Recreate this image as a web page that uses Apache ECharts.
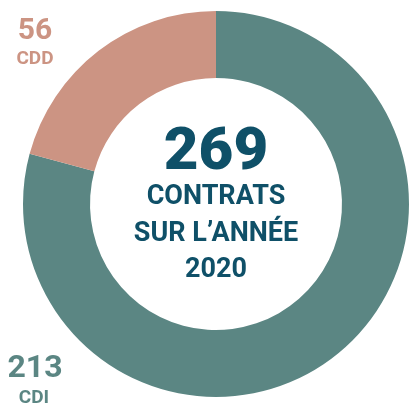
<!DOCTYPE html>
<html>
<head>
<meta charset="utf-8">
<script src="https://cdn.jsdelivr.net/npm/echarts@6/dist/echarts.min.js"></script>
<style>
  html, body { margin: 0; padding: 0; background: #fff; }
  #main { width: 409px; height: 409px; }
</style>
</head>
<body>
<div id="main"></div>
<script>
// données
var categories = ['CDI', 'CDD'];
var values = [213, 56];
var colors = ['#5b8683', '#cc9483'];
var total = 269;
var centerLines = ['CONTRATS', 'SUR L\u2019ANNÉE', '2020'];

var myChart = echarts.init(document.getElementById('main'));

var dark = '#0f5068';
var font = 'Roboto';
var cx = 216;

var graphics = [
  {type: 'text', x: cx, y: 124, style: {text: String(total), font: '900 60px ' + font, fill: dark, align: 'center'}},
  {type: 'text', x: cx, y: 184, style: {text: centerLines[0], font: 'bold 27px ' + font, fill: dark, align: 'center'}},
  {type: 'text', x: cx, y: 221, style: {text: centerLines[1], font: 'bold 27px ' + font, fill: dark, align: 'center'}},
  {type: 'text', x: cx, y: 257, style: {text: centerLines[2], font: 'bold 27px ' + font, fill: dark, align: 'center'}},
  // CDD
  {type: 'text', x: 35, y: 16, style: {text: String(values[1]), font: 'bold 30px ' + font, fill: colors[1], align: 'center'}},
  {type: 'text', x: 35, y: 50, style: {text: categories[1], font: 'bold 19px ' + font, fill: colors[1], align: 'center'}},
  // CDI
  {type: 'text', x: 35, y: 353, style: {text: String(values[0]), font: 'bold 32px ' + font, fill: colors[0], align: 'center'}},
  {type: 'text', x: 34, y: 389, style: {text: categories[0], font: 'bold 19px ' + font, fill: colors[0], align: 'center'}}
];

myChart.setOption({
  animation: false,
  graphic: graphics,
  series: [{
    type: 'pie',
    center: [cx, 204],
    radius: [126, 193],
    startAngle: 90,
    clockwise: true,
    label: {show: false},
    labelLine: {show: false},
    emphasis: {disabled: true},
    data: categories.map(function (c, i) {
      return {name: c, value: values[i], itemStyle: {color: colors[i]}};
    })
  }]
});
</script>
</body>
</html>
